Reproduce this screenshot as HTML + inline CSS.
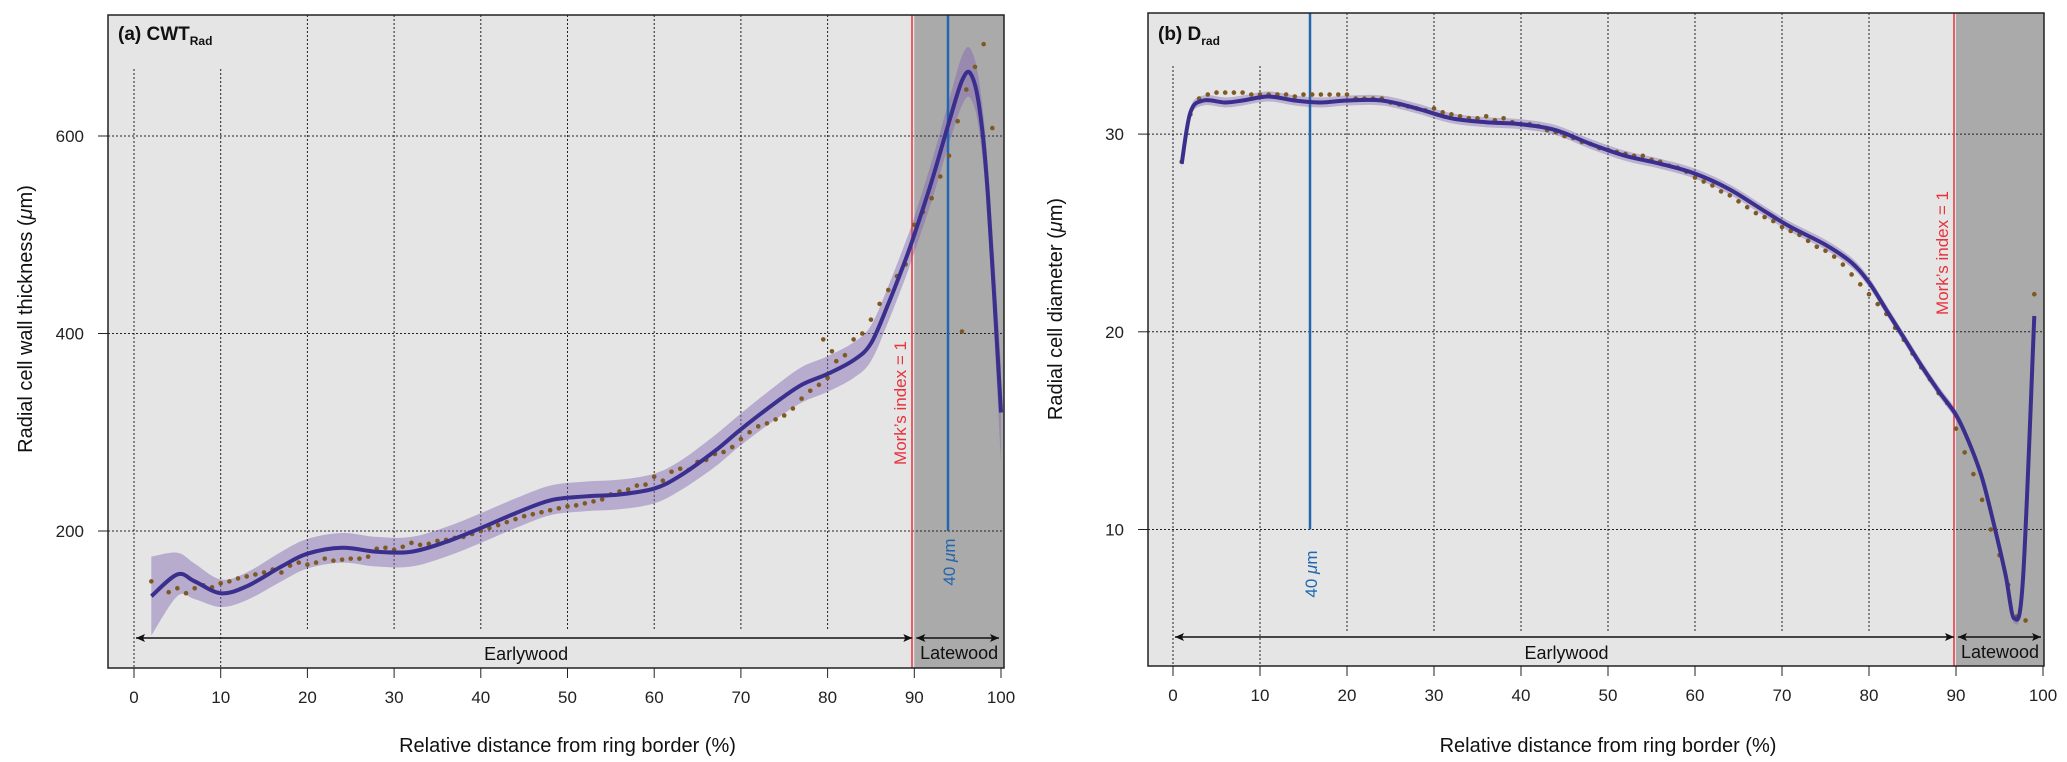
<!DOCTYPE html>
<html><head><meta charset="utf-8"><style>
body{margin:0;background:#fff;}
svg{display:block;font-family:"Liberation Sans",sans-serif;}
</style></head><body>
<svg id="chart" width="2067" height="762" viewBox="0 0 2067 762"></svg>
<script>
// ---- Panel (a) data ----
const aLineX=[2,5,7,10,13,17,20,24,28,32,36,40,44,48,52,56,60,63,67,70,74,77,80,83,85,87,89,90,92,94,95.5,96.5,97.5,98.5,100];
const aLineY=[134,156,149,137,144,164,177,183,179,179,189,203,218,231,235,237,243,256,281,303,330,348,359,373,390,430,475,500,554,614,656,663,629,539,320];
const aBandW=[40,22,18,14,14,15,15,15,15,15,15,15,15,15,15,15,15,15,16,16,17,18,18,18,18,18,18,18,20,22,25,25,25,30,50];
const aDotX=[2,4,5,6,7,8,9,10,11,12,13,14,15,16,17,18,19,20,21,22,23,24,25,26,27,28,29,30,31,32,33,34,35,36,37,38,39,40,41,42,43,44,45,46,47,48,49,50,51,52,53,54,55,56,57,58,59,60,61,62,63,64,65,66,67,68,69,70,71,72,73,74,75,76,77,78,79,79.5,80,80.5,81,82,83,84,85,86,87,88,89,90,91,92,93,94,95,95.5,96,97,98,99];
const aDotY=[149,138,142,137,142,145,143,147,149,152,154,156,158,161,158,165,168,166,168,172,170,171,172,172,174,182,183,181,184,188,186,187,190,191,193,194,197,200,203,206,209,212,215,217,219,221,223,225,226,228,230,232,237,240,242,246,247,255,251,260,263,262,270,272,278,280,285,293,300,306,309,313,317,324,334,342,348,394,355,382,372,378,394,400,414,430,444,458,470,510,523,537,559,580,615,402,647,670,693,608];
const aYTicks=[200,400,600];
const xTicks=[0,10,20,30,40,50,60,70,80,90,100];
// ---- Panel (b) data ----
const bLineX=[1,2,3.5,6,8,11,14,17,20,24,28,32,36,40,44,48,52,56,60,64,68,71,75,78,80,82,84,86,88,90,91.5,93,94.5,95.7,96.7,97.7,99];
const bLineY=[28.5,31.1,31.7,31.6,31.7,31.9,31.7,31.6,31.7,31.7,31.3,30.8,30.6,30.5,30.2,29.5,28.9,28.5,28.0,27.2,26.1,25.3,24.4,23.5,22.5,21.1,19.7,18.3,17.0,15.8,14.4,12.6,10.0,7.7,5.5,7.5,20.8];
const bDotX=[1,2,3,4,5,6,7,8,9,10,11,12,13,14,15,16,17,18,19,20,21,22,23,24,25,26,27,28,29,30,31,32,33,34,35,36,37,38,39,40,41,42,43,44,45,46,47,48,49,50,51,52,53,54,55,56,57,58,59,60,61,62,63,64,65,66,67,68,69,70,71,72,73,74,75,76,77,78,79,80,81,82,83,84,85,86,87,88,89,90,91,92,93,94,95,96,97,98,99];
const bDotY=[28.6,31.0,31.8,32.0,32.1,32.1,32.1,32.1,32.0,32.0,32.0,32.0,32.0,31.9,32.0,32.0,32.0,32.0,32.0,32.0,31.8,31.8,31.8,31.8,31.6,31.5,31.4,31.3,31.2,31.3,31.1,31.0,30.9,30.8,30.8,30.9,30.7,30.8,30.6,30.5,30.5,30.4,30.2,30.1,29.9,29.8,29.6,29.5,29.3,29.2,29.1,29.0,28.9,28.9,28.7,28.6,28.4,28.3,28.1,27.8,27.6,27.4,27.1,26.9,26.6,26.3,26.0,25.8,25.6,25.3,25.1,24.9,24.6,24.3,24.1,23.8,23.4,22.9,22.4,21.9,21.4,20.9,20.2,19.6,18.9,18.2,17.6,16.9,16.4,15.1,13.9,12.8,11.5,10.0,8.7,7.2,5.6,5.4,21.9];
const bYTicks=[10,20,30];

const NS="http://www.w3.org/2000/svg";
const svg=document.getElementById('chart');
function mk(tag,attrs,parent,txt){const e=document.createElementNS(NS,tag);for(const k in attrs)e.setAttribute(k,attrs[k]);if(txt!==undefined)e.textContent=txt;(parent||svg).appendChild(e);return e;}
function spline(pts){let d=`M${pts[0][0]},${pts[0][1]}`;for(let i=0;i<pts.length-1;i++){const p0=pts[Math.max(0,i-1)],p1=pts[i],p2=pts[i+1],p3=pts[Math.min(pts.length-1,i+2)];const t=6;d+=` C${p1[0]+(p2[0]-p0[0])/t},${p1[1]+(p2[1]-p0[1])/t} ${p2[0]-(p3[0]-p1[0])/t},${p2[1]-(p3[1]-p1[1])/t} ${p2[0]},${p2[1]}`;}return d;}

function panel(cfg){
  const g=mk('g',{});
  
  
  const X=v=>cfg.x0+(cfg.x100-cfg.x0)*v/100;
  const Y=v=>cfg.yRef-(v-cfg.vRef)*cfg.k;
  const L=cfg.left,R=cfg.right,T=cfg.top,B=cfg.bottom;
  let e=mk('rect',{x:L,y:T,width:R-L,height:B-T,fill:'#e4e5e4'},g);
  
  e=mk('rect',{x:X(90),y:T,width:R-X(90),height:B-T,fill:'#a9aaa9'},g);
  
  // grid
  xTicks.forEach(t=>{if(t===90||t===100)return;const y1=(t<=cfg.shortMax)?cfg.shortTop:T;
    const l=mk('line',{x1:X(t),x2:X(t),y1:y1,y2:(t<=10?B:cfg.gridBottom),stroke:'#222','stroke-width':1,'stroke-dasharray':'2,2'},g);
    });
  cfg.yTicks.forEach(t=>{const l=mk('line',{x1:L,x2:R,y1:Y(t),y2:Y(t),stroke:'#222','stroke-width':1,'stroke-dasharray':'2,2'},g);
    });
  // band
  if(cfg.bandW){const up=cfg.lineX.map((x,i)=>[X(x),Y(cfg.lineY[i]+cfg.bandW[i])]);const dn=cfg.lineX.map((x,i)=>[X(x),Y(cfg.lineY[i]-cfg.bandW[i])]).reverse();
    const d=spline(up)+' L'+spline(dn).slice(1)+' Z';e=mk('path',{d:d,fill:'rgba(128,100,180,0.45)'},g);}
  else{const up=cfg.lineX.map((x,i)=>[X(x),Y(cfg.lineY[i])-5]);const dn=cfg.lineX.map((x,i)=>[X(x),Y(cfg.lineY[i])+5]).reverse();
    e=mk('path',{d:spline(up)+' L'+spline(dn).slice(1)+' Z',fill:'rgba(128,100,180,0.4)'},g);}
  
  // vertical markers
  e=mk('line',{x1:cfg.blueX,x2:cfg.blueX,y1:T,y2:Y(cfg.blueEnd),stroke:'#2266b0','stroke-width':2.5},g);
  
  e=mk('line',{x1:cfg.redX,x2:cfg.redX,y1:T,y2:B,stroke:'#e8323c','stroke-width':1.5},g);
  
  // dots
  cfg.dotX.forEach((x,i)=>{const c=mk('circle',{cx:X(x),cy:Y(cfg.dotY[i]),r:2.3,fill:'#7e5a22'},g);
    });
  // line
  e=mk('path',{d:spline(cfg.lineX.map((x,i)=>[X(x),Y(cfg.lineY[i])])),fill:'none',stroke:'#3a2f8c','stroke-width':4,'stroke-linejoin':'round'},g);
  
  // box
  e=mk('rect',{x:L,y:T,width:R-L,height:B-T,fill:'none',stroke:'#222','stroke-width':1.5},g);
  
  // arrows
  const ay=cfg.arrowY;
  function arrow(a,b,name){const x1=X(a)+2,x2=X(b)-2;const l=mk('line',{x1:x1,x2:x2,y1:ay,y2:ay,stroke:'#111','stroke-width':1.5},g);
    
    mk('path',{d:`M${x1},${ay} l9,-4 l-2,4 l2,4 z M${x2},${ay} l-9,-4 l2,4 l-2,4 z`,fill:'#111'},g);}
  arrow(0,90,'earlywood-arrow');arrow(90,100,'latewood-arrow');
  e=mk('text',{x:X(45)+2,y:ay+22,'font-size':18,'text-anchor':'middle',fill:'#111'},g,'Earlywood');
  
  e=mk('text',{x:(X(90)+R)/2,y:ay+21,'font-size':18,'text-anchor':'middle',fill:'#111'},g,'Latewood');
  
  // x ticks
  xTicks.forEach(t=>{mk('line',{x1:X(t),x2:X(t),y1:B,y2:B+10,stroke:'#222','stroke-width':1},g);
    const tx=mk('text',{x:X(t),y:B+35,'font-size':17,'text-anchor':'middle',fill:'#222'},g,String(t));
    });
  cfg.yTicks.forEach(t=>{mk('line',{x1:L-10,x2:L,y1:Y(t),y2:Y(t),stroke:'#222','stroke-width':1},g);
    const tx=mk('text',{x:L-24,y:Y(t)+6,'font-size':17,'text-anchor':'end',fill:'#222'},g,String(t));
    });
  e=mk('text',{x:(X(0)+X(100))/2,y:752,'font-size':20,'text-anchor':'middle',fill:'#111'},g,'Relative distance from ring border (%)');
  
  e=mk('text',{x:0,y:0,'font-size':20,'text-anchor':'middle',fill:'#111',transform:`translate(${cfg.yTitleX},${cfg.yTitleY}) rotate(-90)`},g);
  e.innerHTML=cfg.yTitle;
  e=mk('text',{x:L+10,y:40,'font-size':19,'font-weight':'bold',fill:'#111'},g);
  e.innerHTML=cfg.title;
  e=mk('text',{x:0,y:0,'font-size':17,'text-anchor':'middle',fill:'#e8323c',transform:`translate(${cfg.redX-6},${cfg.morkY}) rotate(-90)`},g,'Mork\u2019s index = 1');
  
  e=mk('text',{x:0,y:0,'font-size':17,'text-anchor':'middle',fill:'#2266b0',transform:`translate(${cfg.blueX+7},${cfg.blueLblY}) rotate(-90)`},g);
  e.innerHTML='40 <tspan font-style="italic">μ</tspan>m';
}
panel({name:'panel-a-cwt',left:108,right:1004,top:15,bottom:668,x0:134,x100:1001,yRef:531,vRef:200,k:0.9875,
  yTicks:aYTicks,lineX:aLineX,lineY:aLineY,bandW:aBandW,dotX:aDotX,dotY:aDotY,shortMax:10,shortTop:69,gridBottom:631,
  blueX:948,blueEnd:200,redX:912,arrowY:638,yTitleX:32,yTitleY:319,
  yTitle:'Radial cell wall thickness (<tspan font-style="italic">μ</tspan>m)',
  title:'(a) CWT<tspan font-size="12" dy="5">Rad</tspan>',morkY:403,blueLblY:562});
panel({name:'panel-b-drad',left:1148,right:2044,top:13,bottom:666,x0:1173,x100:2043,yRef:529.5,vRef:10,k:19.77,
  yTicks:bYTicks,lineX:bLineX,lineY:bLineY,bandW:null,dotX:bDotX,dotY:bDotY,shortMax:10,shortTop:66,gridBottom:631,
  blueX:1310,blueEnd:10,redX:1954,arrowY:637,yTitleX:1062,yTitleY:309,
  yTitle:'Radial cell diameter  (<tspan font-style="italic">μ</tspan>m)',
  title:'(b) D<tspan font-size="12" dy="5">rad</tspan>',morkY:253,blueLblY:574});
</script>
</body></html>
